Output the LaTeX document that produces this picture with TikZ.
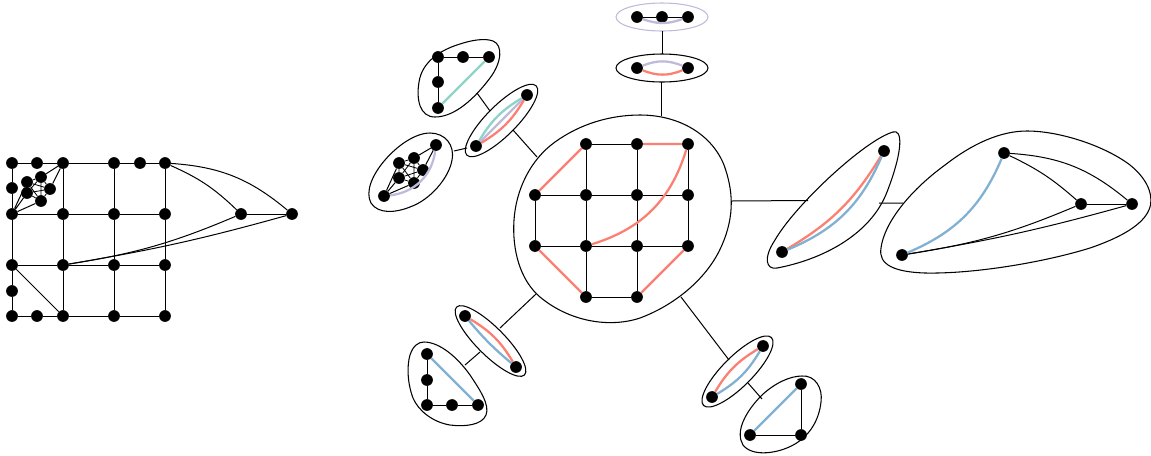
\documentclass[tikz,border=0pt]{standalone}
\definecolor{cgreen}{HTML}{8DD3C7}
\definecolor{cred}{HTML}{FB8072}
\definecolor{cblue}{HTML}{80B1D3}
\definecolor{cpurple}{HTML}{BEBADA}
\tikzset{
  vtx/.style={circle,fill=black,draw=none,inner sep=0pt,minimum size=8.8pt},
  ln/.style={draw=black,line width=0.75pt},
  thinln/.style={draw=black,line width=0.6pt},
  blob/.style={draw=black,line width=0.8pt},
  gr/.style={draw=cgreen,line width=1.7pt},
  rd/.style={draw=cred,line width=1.7pt},
  bl/.style={draw=cblue,line width=1.7pt},
  pu/.style={draw=cpurple,line width=1.7pt},
}
\newcommand{\placev}[1]{\foreach \n/\px/\py in {#1}{\node[vtx] (\n) at (\px,\py) {};}}
\begin{document}
\begin{tikzpicture}[x=0.75pt,y=-0.75pt]
\useasboundingbox (0,0) rectangle (1151,455);
% ---------- left graph
\placev{L1/12/163,L2/37/163,L3/63/163,L4/114/163,L5/140/163,L6/165/163,
 L7/12/188,L8/12/214,L9/63/214,L10/114/214,L11/165/214,L12/241/214,L13/292/214,
 L14/12/265,L15/63/265,L16/114/265,L17/165/265,L18/12/291,
 L19/12/316,L20/37/316,L21/63/316,L22/114/316,L23/165/316,
 Ka/27/182,Kb/41/177,Kc/50/189,Kd/41/201,Ke/27/193}
\draw[ln] (L1)--(L2) (L2)--(L3) (L3)--(L4) (L4)--(L5) (L5)--(L6);
\draw[ln] (L8)--(L9) (L9)--(L10) (L10)--(L11) (L12)--(L13);
\draw[ln] (L14)--(L15) (L15)--(L16) (L16)--(L17);
\draw[ln] (L19)--(L20) (L20)--(L21) (L21)--(L22) (L22)--(L23);
\draw[ln] (L1)--(L7) (L7)--(L8) (L8)--(L14) (L14)--(L18) (L18)--(L19);
\draw[ln] (L3)--(L9) (L9)--(L15) (L15)--(L21);
\draw[ln] (L4)--(L10) (L10)--(L16) (L16)--(L22);
\draw[ln] (L6)--(L11) (L11)--(L17) (L17)--(L23);
\draw[ln] (L14)--(L21);
\draw[ln] (L6) to[bend left=10] (L12);
\draw[ln] (L6) to[bend left=18] (L13);
\draw[ln] (L15) to[bend right=7] (L12);
\draw[ln] (L15) to[bend right=3] (L13);
\draw[ln] (L3)--(Kb) (L3)--(Kc) (L8)--(Ka) (L8)--(Ke) (L8)--(Kd);
\draw[thinln] (Ka)--(Kb) (Kb)--(Kc) (Kc)--(Kd) (Kd)--(Ke) (Ke)--(Ka) (Ka)--(Kc) (Kc)--(Ke) (Ke)--(Kb) (Kb)--(Kd) (Kd)--(Ka);
% ---------- central blob
\draw[blob] (640,115) .. controls (680,115) and (712,135) .. (724,165) .. controls (733,190) and (735,215) .. (722,245) .. controls (708,278) and (675,305) .. (640,318) .. controls (610,328) and (570,322) .. (540,297) .. controls (520,280) and (512,250) .. (514,220) .. controls (516,190) and (530,160) .. (555,142) .. controls (580,124) and (610,115) .. cycle;
\placev{M1/586/144,M2/637/144,M3/688/144,M4/535/195,M5/586/195,M6/637/195,M7/688/195,
 M8/535/246,M9/586/246,M10/637/246,M11/688/246,M12/586/297,M13/637/297}
\draw[ln] (M1)--(M2) (M4)--(M5) (M5)--(M6) (M6)--(M7) (M8)--(M9) (M9)--(M10) (M10)--(M11) (M12)--(M13);
\draw[ln] (M4)--(M8) (M1)--(M5) (M5)--(M9) (M9)--(M12) (M2)--(M6) (M6)--(M10) (M10)--(M13) (M3)--(M7) (M7)--(M11);
\draw[rd] (M2)--(M3) (M1)--(M4) (M8)--(M12) (M13)--(M11);
\draw[rd] (M3) to[bend left=28] (M9);
% ---------- top ovals
\draw[draw=cpurple,line width=0.8pt] (662,17) ellipse[x radius=46,y radius=14];
\placev{T1/637/17,T2/662/17,T3/688/17}
\draw[ln] (T1)--(T2) (T2)--(T3);
\draw[pu] (T1) to[bend right=20] (T3);
\draw[blob] (662,68) ellipse[x radius=46,y radius=14];
\placev{U1/637/68,U2/688/68}
\draw[pu] (U1) to[bend left=22] (U2);
\draw[rd] (U1) to[bend right=22] (U2);
\coordinate (c1a) at (662,31); \coordinate (c1b) at (662,54);
\coordinate (c2a) at (661,82); \coordinate (c2b) at (661,116);
\draw[ln] (c1a)--(c1b) (c2a)--(c2b);
% ---------- upper-left blobs
\draw[blob] (493,41) .. controls (503,45) and (502,62) .. (490,78) .. controls (475,98) and (455,117) .. (435,117) .. controls (420,117) and (416,100) .. (419,82) .. controls (422,62) and (440,50) .. (460,44) .. controls (472,40) and (485,38) .. cycle;
\placev{A1/438/57,A2/463/57,A3/489/57,A4/438/82,A5/438/108}
\draw[ln] (A1)--(A2) (A2)--(A3) (A1)--(A4) (A4)--(A5);
\draw[gr] (A3)--(A5);
\draw[blob,rotate around={45:(501.5,120.5)}] (501.5,120.5) ellipse[x radius=49,y radius=15];
\placev{B1/527/95,B2/476/146}
\draw[gr] (B1) to[bend right=14] (B2);
\draw[pu] (B1)--(B2);
\draw[rd] (B1) to[bend left=14] (B2);
\draw[blob] (430,133) .. controls (445,133) and (455,145) .. (452,160) .. controls (449,178) and (430,200) .. (410,207) .. controls (395,213) and (378,214) .. (371,203) .. controls (365,192) and (372,175) .. (385,160) .. controls (397,146) and (415,133) .. cycle;
\placev{C1/436/145,C2/384/196,Ca/399/163,Cb/414/158,Cc/423/170,Cd/414/183,Ce/399/178}
\draw[pu] (C1) to[bend left=38] (C2);
\draw[ln] (C1)--(Cb) (C1)--(Cc) (C2)--(Ca) (C2)--(Ce) (C2)--(Cd);
\draw[thinln] (Ca)--(Cb) (Cb)--(Cc) (Cc)--(Cd) (Cd)--(Ce) (Ce)--(Ca) (Ca)--(Cc) (Cc)--(Ce) (Ce)--(Cb) (Cb)--(Cd) (Cd)--(Ca);
\coordinate (c3a) at (477,93); \coordinate (c3b) at (490,111);
\coordinate (c4a) at (454,151); \coordinate (c4b) at (467,148);
\coordinate (c5a) at (513,130); \coordinate (c5b) at (537,157);
\draw[ln] (c3a)--(c3b) (c4a)--(c4b) (c5a)--(c5b);
% ---------- lower-left blobs
\draw[blob,rotate around={-45:(490.5,341)}] (490.5,341) ellipse[x radius=48,y radius=14];
\placev{D1/465/316,D2/516/367}
\draw[rd] (D1) to[bend left=14] (D2);
\draw[bl] (D1) to[bend right=5] (D2);
\draw[blob] (424,342) .. controls (440,342) and (458,358) .. (470,375) .. controls (480,390) and (490,405) .. (486,415) .. controls (482,425) and (465,427) .. (450,425) .. controls (432,422) and (418,410) .. (413,398) .. controls (407,382) and (407,365) .. (410,355) .. controls (413,346) and (418,342) .. cycle;
\placev{E1/427/354,E2/427/380,E3/427/405,E4/452/405,E5/478/405}
\draw[ln] (E1)--(E2) (E2)--(E3) (E3)--(E4) (E4)--(E5);
\draw[bl] (E1)--(E5);
\coordinate (c6a) at (536,294); \coordinate (c6b) at (500,328);
\coordinate (c7a) at (480,352); \coordinate (c7b) at (465,365);
\draw[ln] (c6a)--(c6b) (c7a)--(c7b);
% ---------- lower-right blobs
\draw[blob,rotate around={45:(737.5,371.5)}] (737.5,371.5) ellipse[x radius=48,y radius=15];
\placev{F1/763/346,F2/712/397}
\draw[rd] (F1) to[bend right=14] (F2);
\draw[bl] (F1) to[bend left=14] (F2);
\draw[blob] (802,376) .. controls (815,375) and (823,388) .. (821,402) .. controls (819,420) and (810,435) .. (795,444) .. controls (778,454) and (752,457) .. (743,445) .. controls (735,432) and (745,412) .. (762,395) .. controls (775,383) and (790,376) .. cycle;
\placev{G1/801/384,G2/801/435,G3/750/435}
\draw[ln] (G1)--(G2) (G2)--(G3);
\draw[bl] (G3)--(G1);
\coordinate (c8a) at (681,297); \coordinate (c8b) at (729,360);
\coordinate (c9a) at (748,383); \coordinate (c9b) at (762,399);
\draw[ln] (c8a)--(c8b) (c9a)--(c9b);
% ---------- right blobs
\draw[blob] (893,132) .. controls (902,129) and (904,148) .. (887,192) .. controls (870,236) and (820,260) .. (777,268) .. controls (766,270) and (763,258) .. (775,240) .. controls (795,205) and (865,140) .. cycle;
\placev{H1/884/151,H2/782/252}
\draw[rd] (H1) to[bend left=14] (H2);
\draw[bl] (H1) to[bend left=22] (H2);
\draw[blob] (1027,131) .. controls (1060,131) and (1105,146) .. (1130,165) .. controls (1145,177) and (1153,192) .. (1150.5,205) .. controls (1147,222) and (1125,236) .. (1090,248) .. controls (1045,262) and (975,274) .. (925,273) .. controls (895,272) and (878,265) .. (881,248) .. controls (884,224) and (908,192) .. (945,165) .. controls (972,144) and (1000,131) .. cycle;
\placev{J1/1004/153,J2/1081/204,J3/1132/204,J4/902/255}
\draw[ln] (J2)--(J3);
\draw[ln] (J1) to[bend left=8] (J2);
\draw[ln] (J1) to[bend left=18] (J3);
\draw[ln] (J4) to[bend right=7] (J2);
\draw[ln] (J4) to[bend right=3] (J3);
\draw[bl] (J1) to[bend left=22] (J4);
\coordinate (c10a) at (731,201); \coordinate (c10b) at (808,200.5);
\coordinate (c11a) at (879,203); \coordinate (c11b) at (903,203);
\draw[ln] (c10a)--(c10b) (c11a)--(c11b);
\end{tikzpicture}
\end{document}
